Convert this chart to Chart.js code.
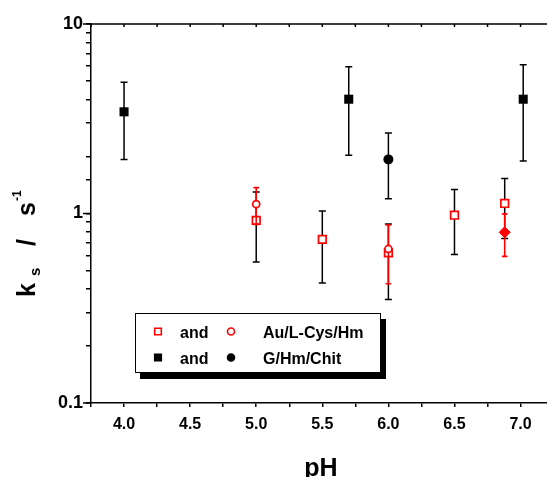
<!DOCTYPE html>
<html><head><meta charset="utf-8">
<script src="https://cdn.jsdelivr.net/npm/chart.js@4.4.0/dist/chart.umd.min.js"></script>
<style>html,body{margin:0;padding:0;background:#fff;overflow:hidden}</style>
</head><body>
<canvas id="c" width="547" height="477"></canvas>
<script>
// ---- tick labels / titles ----
const xTickLabels = ['4.0','4.5','5.0','5.5','6.0','6.5','7.0'];
const yTickLabels = ['0.1','1','10'];
const xTitle = 'pH';
const legendTexts = ['Au/L-Cys/Hm','G/Hm/Chit'];
const legendJoin = 'and';

// ---- data: Au/L-Cys/Hm (red) ----
const redSqX  = [5.0, 5.5, 6.0, 6.5, 6.88];
const redSqY  = [0.92, 0.73, 0.62, 0.98, 1.13];
const redSqLo = [0.555, 0.43, 0.352, 0.607, 0.737];
const redSqHi = [1.30, 1.03, 0.88, 1.34, 1.53];

const redCiX  = [5.0, 6.0];
const redCiY  = [1.12, 0.65];
const redCiLo = [0.875, 0.426];
const redCiHi = [1.37, 0.87];

const redDiX  = [6.88];
const redDiY  = [0.796];
const redDiLo = [0.594];
const redDiHi = [0.996];

// ---- data: G/Hm/Chit (black) ----
const blkSqX  = [4.0, 5.7, 7.02];
const blkSqY  = [3.44, 4.01, 4.01];
const blkSqLo = [1.93, 2.03, 1.89];
const blkSqHi = [4.93, 5.94, 6.09];

const blkCiX  = [6.0];
const blkCiY  = [1.93];
const blkCiLo = [1.196];
const blkCiHi = [2.66];

const FONT = '"Liberation Sans", Arial, sans-serif';
const pts = (xs, ys) => xs.map((x, i) => ({x: x, y: ys[i]}));

const errPlugin = {
  id: 'errbars',
  beforeDatasetDraw(chart, args) {
    const ds = chart.data.datasets[args.index];
    if (!ds.errLo) return;
    const xs = chart.scales.x, ys = chart.scales.y, ctx = chart.ctx;
    ctx.save();
    ctx.strokeStyle = ds.errColor;
    ctx.lineWidth = ds.errWidth;
    ds.data.forEach((p, i) => {
      const px = xs.getPixelForValue(p.x);
      const yl = ys.getPixelForValue(ds.errLo[i]);
      const yh = ys.getPixelForValue(ds.errHi[i]);
      const c = ds.capHalf;
      ctx.beginPath();
      ctx.moveTo(px, yl); ctx.lineTo(px, yh);
      ctx.moveTo(px - c, yl); ctx.lineTo(px + c, yl);
      ctx.moveTo(px - c, yh); ctx.lineTo(px + c, yh);
      ctx.stroke();
    });
    ctx.restore();
  }
};

const decorPlugin = {
  id: 'decor',
  afterDraw(chart) {
    const ctx = chart.ctx, a = chart.chartArea;
    const xs = chart.scales.x, ys = chart.scales.y;
    ctx.save();
    ctx.strokeStyle = '#000';
    ctx.lineWidth = 1.5;
    // top axis line + inward ticks
    ctx.beginPath();
    ctx.moveTo(a.left - 8, a.top); ctx.lineTo(chart.width, a.top);
    xs.ticks.forEach(t => {
      const px = xs.getPixelForValue(t.value);
      ctx.moveTo(px, a.top); ctx.lineTo(px, a.top + 3);
    });
    // longer major ticks on y
    yTickLabels.forEach(l => {
      const py = ys.getPixelForValue(parseFloat(l));
      ctx.moveTo(a.left - 8, py); ctx.lineTo(a.left, py);
    });
    ctx.stroke();

    ctx.fillStyle = '#000';
    // x title
    ctx.font = 'bold 25px ' + FONT;
    ctx.textAlign = 'center';
    ctx.textBaseline = 'alphabetic';
    ctx.fillText(xTitle, 321, 476);

    // y title: k_s / s^-1, rotated
    ctx.textAlign = 'left';
    const part = (txt, size, bx, sy) => {
      ctx.save();
      ctx.font = 'bold ' + size + 'px ' + FONT;
      ctx.translate(bx, sy);
      ctx.rotate(-Math.PI / 2);
      ctx.fillText(txt, 0, 0);
      ctx.restore();
    };
    part('k', 25, 35, 297);
    part('s', 15, 40, 276);
    part('/', 25, 35, 246);
    part('s', 25, 35, 216);
    part('-1', 12, 21, 201);

    // legend box with shadow
    const bx = 135, by = 313, bw = 245, bh = 59;
    ctx.fillStyle = '#000';
    ctx.fillRect(bx + 5, by + 6, bw + 1, bh + 1);
    ctx.fillStyle = '#fff';
    ctx.fillRect(bx, by, bw, bh);
    ctx.lineWidth = 1;
    ctx.strokeStyle = '#000';
    ctx.strokeRect(bx + 0.5, by + 0.5, bw, bh);

    const rows = [
      {y: 331.5, color: '#ff0000', fill: '#fff', base: 337.5, label: legendTexts[0]},
      {y: 357.5, color: '#000', fill: '#000', base: 363.5, label: legendTexts[1]}
    ];
    rows.forEach(r => {
      ctx.lineWidth = 1.6;
      ctx.strokeStyle = r.color;
      ctx.fillStyle = r.fill;
      ctx.beginPath(); ctx.rect(158 - 3.3, r.y - 3.3, 6.6, 6.6); ctx.fill(); ctx.stroke();
      ctx.beginPath(); ctx.arc(231, r.y, 3.5, 0, Math.PI * 2); ctx.fill(); ctx.stroke();
      ctx.fillStyle = '#000';
      ctx.font = 'bold 16px ' + FONT;
      ctx.fillText(legendJoin, 180, r.base);
      ctx.fillText(r.label, 263, r.base);
    });
    ctx.restore();
  }
};

const isLabel = (v, arr) => arr.find(l => Math.abs(parseFloat(l) - v) < 1e-6);

new Chart(document.getElementById('c'), {
  type: 'scatter',
  data: {
    datasets: [
      { label: 'G/Hm/Chit squares', data: pts(blkSqX, blkSqY), order: 5,
        pointStyle: 'rect', pointRadius: 6.4, backgroundColor: '#000', borderColor: '#000', borderWidth: 0,
        errLo: blkSqLo, errHi: blkSqHi, errColor: '#000', errWidth: 1.5, capHalf: 3.5 },
      { label: 'G/Hm/Chit circles', data: pts(blkCiX, blkCiY), order: 4,
        pointStyle: 'circle', pointRadius: 5, backgroundColor: '#000', borderColor: '#000', borderWidth: 0,
        errLo: blkCiLo, errHi: blkCiHi, errColor: '#000', errWidth: 1.5, capHalf: 3.5 },
      { label: 'Au/L-Cys/Hm squares', data: pts(redSqX, redSqY), order: 3,
        pointStyle: 'rect', pointRadius: 5.4, backgroundColor: '#fff', borderColor: '#ff0000', borderWidth: 1.7,
        errLo: redSqLo, errHi: redSqHi, errColor: '#000', errWidth: 1.5, capHalf: 3.5 },
      { label: 'Au/L-Cys/Hm circles', data: pts(redCiX, redCiY), order: 2,
        pointStyle: 'circle', pointRadius: 3.5, backgroundColor: '#fff', borderColor: '#ff0000', borderWidth: 1.7,
        errLo: redCiLo, errHi: redCiHi, errColor: '#ff0000', errWidth: 1.6, capHalf: 2.8 },
      { label: 'Au/L-Cys/Hm diamond', data: pts(redDiX, redDiY), order: 1,
        pointStyle: 'rectRot', pointRadius: 5.5, backgroundColor: '#ff0000', borderColor: '#ff0000', borderWidth: 1,
        errLo: redDiLo, errHi: redDiHi, errColor: '#ff0000', errWidth: 1.6, capHalf: 2.8 }
    ]
  },
  options: {
    responsive: false,
    devicePixelRatio: 1,
    animation: false,
    layout: { autoPadding: false, padding: { top: 24, right: 0, left: 0, bottom: 0 } },
    plugins: { legend: { display: false }, tooltip: { enabled: false } },
    scales: {
      x: {
        type: 'linear', position: 'bottom', min: 3.75, max: 7.2,
        afterFit(s) { s.height = 74; },
        afterBuildTicks(s) {
          s.ticks = s.ticks.filter(t => Math.abs(t.value * 4 - Math.round(t.value * 4)) < 1e-6);
        },
        ticks: {
          stepSize: 0.25, includeBounds: false, autoSkip: false, maxRotation: 0, color: '#000', padding: 8,
          font: { family: FONT, size: 16, weight: 'bold' },
          callback: v => isLabel(v, xTickLabels) || ''
        },
        grid: { drawOnChartArea: false, tickLength: 4, color: '#000', lineWidth: 1.5 },
        border: { display: true, color: '#000', width: 1.5 }
      },
      y: {
        type: 'logarithmic', min: 0.1, max: 10,
        afterFit(s) { s.width = 91; },
        ticks: {
          autoSkip: false, color: '#000', padding: 3,
          font: { family: FONT, size: 18, weight: 'bold' },
          callback: v => isLabel(v, yTickLabels) || ''
        },
        grid: { drawOnChartArea: false, tickLength: 5, color: '#000', lineWidth: 1.5 },
        border: { display: true, color: '#000', width: 1.5 }
      }
    }
  },
  plugins: [errPlugin, decorPlugin]
});
</script>
</body></html>
